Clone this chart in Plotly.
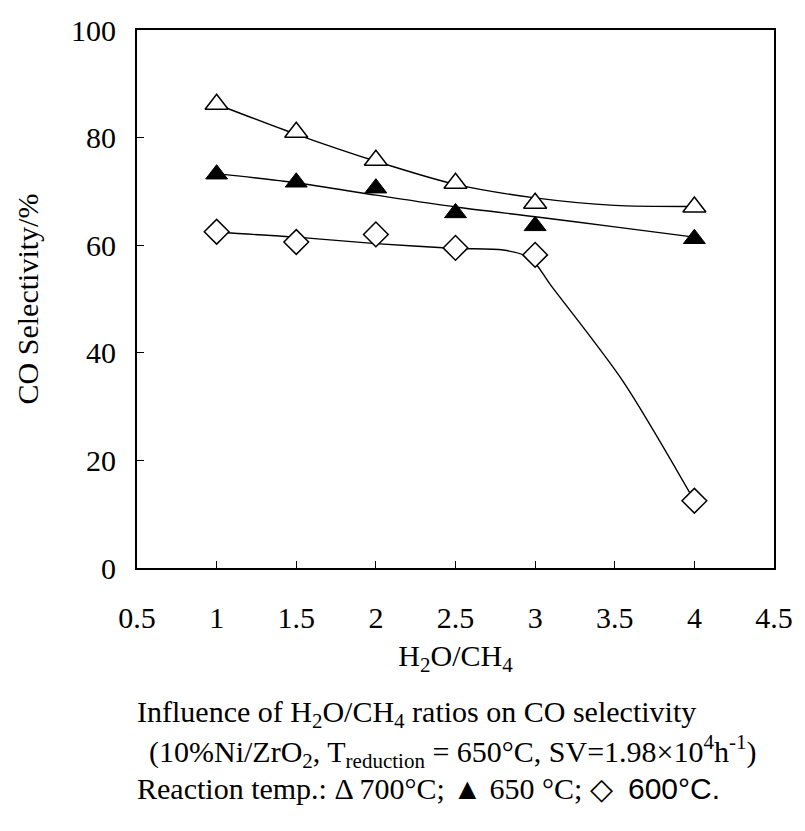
import plotly.graph_objects as go

# Measured data points
x_pts = [1, 1.5, 2, 2.5, 3, 4]
sel_700 = [86.2, 81.0, 75.8, 71.5, 67.8, 67.1]
sel_650 = [73.2, 71.7, 70.6, 66.0, 63.6, 61.2]
sel_600 = [62.5, 60.6, 62.0, 59.5, 58.2, 12.5]

# Fitted trend curves
fit_x_700 = [1, 1.5, 2, 2.5, 3, 3.5, 4]
fit_700 = [86.2, 80.6, 75.6, 71.3, 68.8, 67.4, 67.2]
fit_x_650 = [1, 1.5, 2, 2.5, 3, 3.5, 4]
fit_650 = [73.3, 71.6, 69.3, 67.1, 65.3, 63.4, 61.5]
fit_x_600 = [1, 1.5, 2, 2.5, 2.8, 2.97, 3.1, 3.55, 4]
fit_600 = [62.4, 61.5, 60.3, 59.4, 59.1, 57.6, 52.5, 34.8, 12.5]

x_ticks = [0.5, 1, 1.5, 2, 2.5, 3, 3.5, 4, 4.5]
x_tick_text = ["0.5", "1", "1.5", "2", "2.5", "3", "3.5", "4", "4.5"]
y_ticks = [0, 20, 40, 60, 80, 100]

FONT = "Liberation Serif"
FS = 30

fig = go.Figure()
line_style = dict(color="black", width=1.4, shape="spline", smoothing=0.8)
for fx, fy in [(fit_x_700, fit_700), (fit_x_650, fit_650), (fit_x_600, fit_600)]:
    fig.add_trace(go.Scatter(x=fx, y=fy, mode="lines", line=line_style,
                             showlegend=False, hoverinfo="skip"))

fig.add_trace(go.Scatter(x=x_pts, y=sel_700, mode="markers", name="700°C",
                         marker=dict(symbol="triangle-up", size=20, color="white",
                                     line=dict(color="black", width=1.5))))
fig.add_trace(go.Scatter(x=x_pts, y=sel_650, mode="markers", name="650°C",
                         marker=dict(symbol="triangle-up", size=19, color="black",
                                     line=dict(color="black", width=1))))
fig.add_trace(go.Scatter(x=x_pts, y=sel_600, mode="markers", name="600°C",
                         marker=dict(symbol="diamond", size=19, color="white",
                                     line=dict(color="black", width=1.5))))

fig.update_layout(
    width=805, height=831,
    margin=dict(l=137, r=22, t=30, b=263),
    paper_bgcolor="white", plot_bgcolor="white",
    showlegend=False,
    font=dict(family=FONT, size=FS, color="black"),
    xaxis=dict(range=[0.5, 4.5], tickvals=x_ticks, ticktext=x_tick_text,
               ticks="inside", ticklen=7, tickcolor="black", tickwidth=1.3,
               showline=True, linecolor="black", linewidth=1.8, mirror=True,
               showgrid=False, zeroline=False, ticklabelstandoff=22,
               tickfont=dict(size=FS),
               title=dict(text="H<sub>2</sub>O/CH<sub>4</sub>", standoff=12,
                          font=dict(size=FS))),
    yaxis=dict(range=[0, 100], tickvals=y_ticks,
               ticks="inside", ticklen=7, tickcolor="black", tickwidth=1.3,
               showline=True, linecolor="black", linewidth=1.8, mirror=True,
               showgrid=False, zeroline=False, ticklabelstandoff=13,
               tickfont=dict(size=FS),
               title=dict(text="CO Selectivity/%", standoff=24,
                          font=dict(size=FS))),
)

def py(p):
    return (568 - p) / 538.0

def px(p):
    return (p - 137) / 646.0

fig.add_annotation(xref="paper", yref="paper", x=px(135), y=py(714),
                   xanchor="left", yanchor="middle", showarrow=False,
                   text="Influence of H<sub>2</sub>O/CH<sub>4</sub> ratios on CO selectivity",
                   font=dict(size=FS))
fig.add_annotation(xref="paper", yref="paper", x=px(147), y=py(751),
                   xanchor="left", yanchor="middle", showarrow=False,
                   text="(10%Ni/ZrO<sub>2</sub>, T<sub>reduction</sub> = 650°C, SV=1.98×10<sup>4</sup>h<sup>-1</sup>)",
                   font=dict(size=FS))
fig.add_annotation(xref="paper", yref="paper", x=px(135), y=py(788),
                   xanchor="left", yanchor="middle", showarrow=False,
                   text="Reaction temp.: Δ 700°C; ▲ 650 °C; ◇  <span style=\"font-family:'Liberation Sans'\">600°C.</span>",
                   font=dict(size=FS))

fig.write_html("out.html")
